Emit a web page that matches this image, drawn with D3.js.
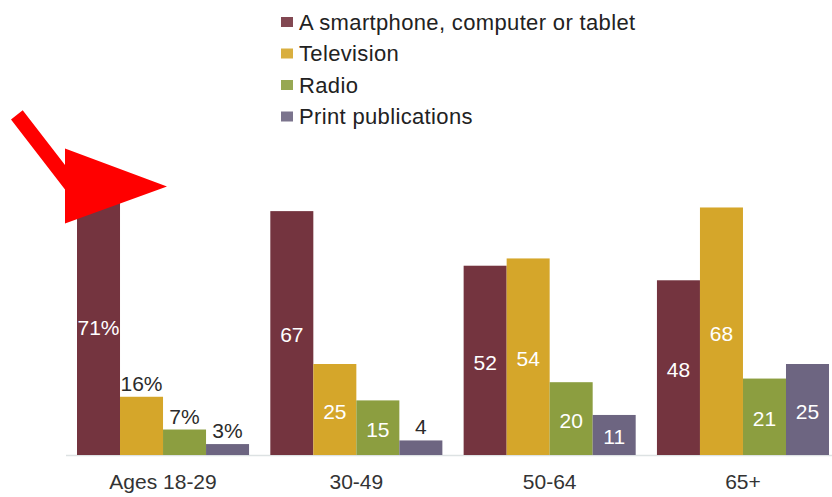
<!DOCTYPE html>
<html>
<head>
<meta charset="utf-8">
<script src="https://cdn.jsdelivr.net/npm/d3@7"></script>
<style>
  html, body { margin: 0; padding: 0; background: #ffffff; }
  svg { display: block; font-family: "Liberation Sans", Arial, sans-serif; }
</style>
</head>
<body>
<svg id="chart" width="832" height="497"></svg>
<script>
// Age groups along the x axis
const groups = ["Ages 18-29", "30-49", "50-64", "65+"];

// Series (device / medium) and their colours
const series = ["A smartphone, computer or tablet", "Television", "Radio", "Print publications"];
const colors = ["#74343f", "#d5a62a", "#8c9e40", "#6d6581"];

// Percent of each age group, one array per series
const smartphone = [71, 67, 52, 48];
const television = [16, 25, 54, 68];
const radio = [7, 15, 20, 21];
const printPubs = [3, 4, 11, 25];
const seriesValues = [smartphone, television, radio, printPubs];

const svg = d3.select("#chart");
const W = 832, H = 497;
const baseY = 455;

const x0 = d3.scaleBand().domain(groups).range([77, 829]).paddingInner(0.11).paddingOuter(0);
const x1 = d3.scaleBand().domain(series).range([0, x0.bandwidth()]).padding(0);
const y = d3.scaleLinear().domain([0, 100]).range([baseY, 91]);
const color = d3.scaleOrdinal().domain(series).range(colors);

// Flatten into one record per bar
const rows = [];
groups.forEach((g, gi) => {
  series.forEach((s, si) => {
    const value = seriesValues[si][gi];
    // percent-suffixed labels in the first group need more room than plain numbers
    const inside = value >= 10 && !(gi === 0 && value < 20);
    rows.push({ group: g, gi, series: s, si, value, inside });
  });
});

// Baseline
svg.append("line")
  .attr("x1", 66).attr("x2", W)
  .attr("y1", baseY + 0.5).attr("y2", baseY + 0.5)
  .attr("stroke", "#dde2e3").attr("stroke-width", 1.5);

// Bars
svg.append("g").selectAll("rect").data(rows).join("rect")
  .attr("x", d => x0(d.group) + x1(d.series))
  .attr("y", d => y(d.value))
  .attr("width", x1.bandwidth())
  .attr("height", d => baseY - y(d.value))
  .attr("fill", d => color(d.series));

// Value labels: inside bars in white, above short bars in dark grey
svg.append("g").selectAll("text").data(rows).join("text")
  .attr("x", d => x0(d.group) + x1(d.series) + x1.bandwidth() / 2)
  .attr("y", d => d.inside ? (y(d.value) + baseY) / 2 + 2 : y(d.value) - 6)
  .attr("dy", d => d.inside ? "0.35em" : 0)
  .attr("text-anchor", "middle")
  .attr("font-size", 21)
  .attr("fill", d => d.inside ? "#ffffff" : "#2b2b2b")
  .text(d => d.gi === 0 ? d.value + "%" : d.value);

// Category labels
const xAxis = d3.axisBottom(x0).tickSize(0).tickPadding(0);
const axisG = svg.append("g").attr("transform", `translate(0, 474)`).call(xAxis);
axisG.select(".domain").remove();
axisG.selectAll("text")
  .attr("font-size", 21)
  .attr("font-family", "\"Liberation Sans\", Arial, sans-serif")
  .attr("fill", "#333333")
  .attr("dy", "0.71em");

// Legend
const legend = svg.append("g").attr("transform", "translate(281, 22)");
const item = legend.selectAll("g").data(series).join("g")
  .attr("transform", (d, i) => `translate(0, ${i * 31.5})`);
item.append("rect")
  .attr("x", 0).attr("y", -5).attr("width", 12).attr("height", 10)
  .attr("fill", d => color(d)).attr("opacity", 0.9);
item.append("text")
  .attr("x", 18).attr("y", 7.5)
  .attr("font-size", 22)
  .attr("letter-spacing", 0.35)
  .attr("fill", "#222222")
  .text(d => d);

// Red pointer arrow aimed at the first bar
const bx = x0(groups[0]);
const ax = bx - 12, ay = y(smartphone[0]);
const arrowPts = [
  [ax - 54, ay - 77], [ax - 42.3, ay - 86.3], [ax, ay - 31.5], [ax, ay - 48],
  [ax + 102, ay - 10], [ax, ay + 27], [ax, ay - 7]
];
svg.append("path")
  .attr("d", d3.line()(arrowPts) + "Z")
  .attr("fill", "#ff0000");
</script>
</body>
</html>
